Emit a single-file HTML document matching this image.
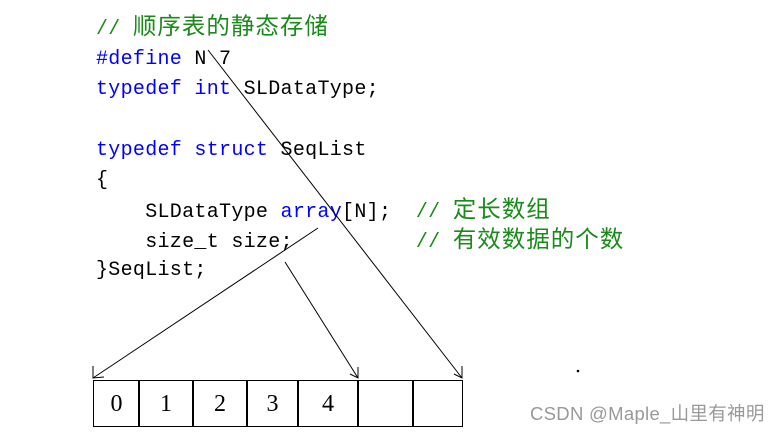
<!DOCTYPE html>
<html><head><meta charset="utf-8"><style>
body{margin:0;width:780px;height:432px;background:#fff;position:relative;overflow:hidden}
.l{position:absolute;left:96px;height:24px;line-height:24px;font-family:"Liberation Mono","Noto Sans CJK SC",monospace;font-size:20px;letter-spacing:0.3px;white-space:pre;color:#000}
.k{color:#0000ff}.c{color:#1a8a1a}
.z{font-family:"Noto Sans CJK SC",sans-serif;font-size:23.5px;letter-spacing:1px;line-height:20px}
.cell{position:absolute;top:380px;height:47px;border:1.5px solid #000;box-sizing:border-box;font-family:"Liberation Serif",serif;font-size:24px;text-align:center;line-height:46px}
</style></head><body>
<div class="l c" style="top:14px">// <span class="z">顺序表的静态存储</span></div>
<div class="l" style="top:48px"><span class="k">#define</span> N 7</div>
<div class="l" style="top:78px"><span class="k">typedef int</span> SLDataType;</div>
<div class="l" style="top:139px"><span class="k">typedef struct</span> SeqList</div>
<div class="l" style="top:169px">{</div>
<div class="l" style="top:197px">    SLDataType <span class="k">array</span>[N];  <span class="c">// <span class="z">定长数组</span></span></div>
<div class="l" style="top:227px">    size_t size;          <span class="c">// <span class="z">有效数据的个数</span></span></div>
<div class="l" style="top:259px">}SeqList;</div>
<div class="cell" style="left:93px;width:47px">0</div>
<div class="cell" style="left:138px;width:56px">1</div>
<div class="cell" style="left:192px;width:56px">2</div>
<div class="cell" style="left:246px;width:53px">3</div>
<div class="cell" style="left:297px;width:62px">4</div>
<div class="cell" style="left:357px;width:57px"></div>
<div class="cell" style="left:412px;width:51px"></div>
<svg width="780" height="432" style="position:absolute;left:0;top:0" fill="none" stroke="#000" stroke-width="1">
<line x1="318" y1="228" x2="93" y2="378"/>
<polyline points="93,366 93,378 104,377"/>
<line x1="285" y1="262" x2="358" y2="378"/>
<polyline points="350,374 358,378 358,367"/>
<line x1="208" y1="50" x2="462" y2="378"/>
<polyline points="454,374 462,378 462,366"/>
<circle cx="578" cy="371" r="0.8" fill="#000"/>
</svg>
<div style="position:absolute;left:530px;top:400px;font-family:'Liberation Sans','Noto Sans CJK SC',sans-serif;font-size:18.5px;letter-spacing:0.3px;color:#999;white-space:nowrap">CSDN @Maple_山里有神明</div>
</body></html>
